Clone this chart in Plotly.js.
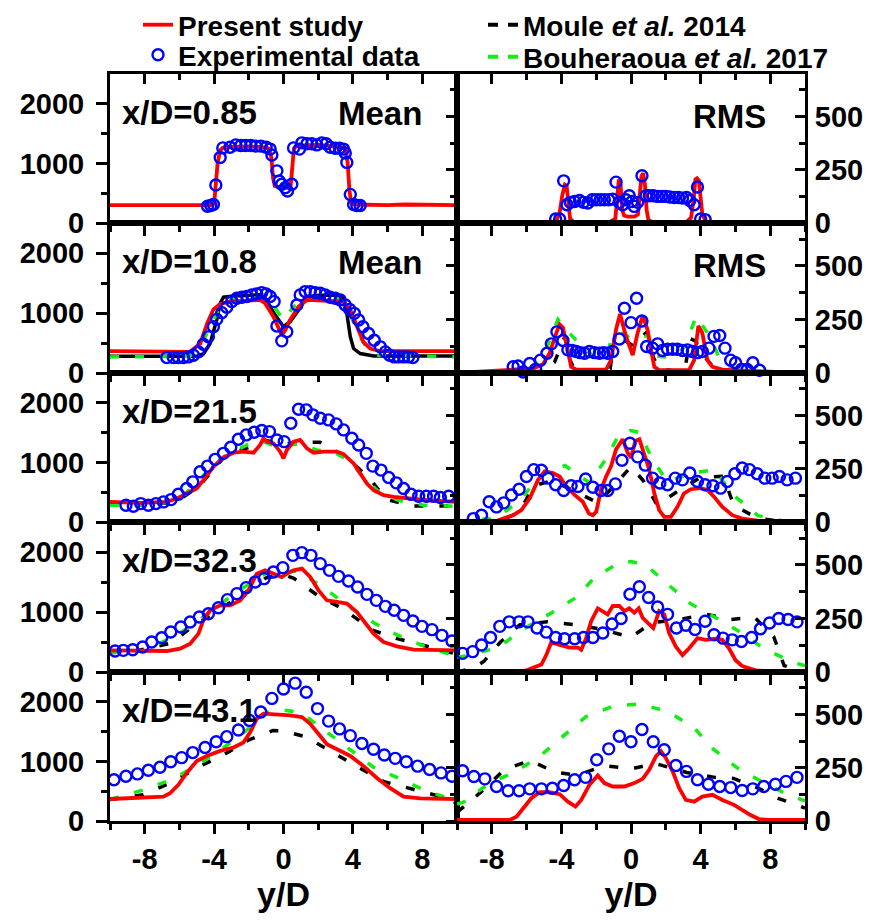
<!DOCTYPE html>
<html><head><meta charset="utf-8">
<script src="https://cdn.plot.ly/plotly-3.0.1.min.js"></script>
<style>html,body{margin:0;padding:0;background:#fff}</style>
</head><body><div id="chart" style="width:882px;height:921px"></div>
<script>
// ---------- DATA ----------
const stations = ['x/D=0.85','x/D=10.8','x/D=21.5','x/D=32.3','x/D=43.1'];
const xTickVals = [-8,-4,0,4,8];

// x/D = 0.85  Mean
const mean1_red_x = [-10,-6,-4.2,-4.0,-3.9,-3.8,-3.65,-3.5,-3,-2,-1,-0.8,-0.7,-0.6,-0.5,-0.3,0,0.3,0.42,0.5,0.6,0.75,1,2,3,3.4,3.6,3.7,3.8,3.9,4.1,5,6,7,8,9,10];
const mean1_red_y = [300,300,300,320,600,1000,1220,1260,1275,1285,1270,1240,1100,750,620,600,590,595,640,950,1250,1290,1300,1310,1290,1270,1220,1000,550,340,310,300,300,310,305,315,300];
const mean1_exp_x = [-4.38,-4.19,-4.04,-3.9,-3.65,-3.5,-3.08,-2.75,-2.46,-2.17,-1.88,-1.6,-1.3,-1.0,-0.77,-0.67,-0.38,-0.25,-0.1,0.1,0.23,0.48,0.58,0.92,1.06,1.35,1.63,1.92,2.21,2.46,2.69,2.98,3.23,3.46,3.56,3.65,3.85,4.04,4.23,4.42];
const mean1_exp_y = [282,294,311,638,1100,1260,1270,1310,1300,1300,1300,1290,1290,1270,1240,1140,875,705,650,593,537,650,1260,1240,1345,1330,1330,1310,1345,1330,1270,1255,1255,1240,1175,1017,480,310,294,294];

// x/D = 0.85  RMS
const rms1_red_x = [-10,-5,-4.3,-4.1,-3.95,-3.8,-3.7,-3.6,-3.5,-3.3,-1.2,-0.9,-0.8,-0.7,-0.6,-0.5,-0.4,-0.2,0,0.2,0.4,0.5,0.6,0.7,0.8,0.9,1.0,1.2,3.2,3.45,3.6,3.7,3.8,3.9,4.0,4.1,4.3,5,10];
const rms1_red_y = [0,2,8,50,130,180,175,100,20,5,5,20,120,205,180,60,35,30,30,30,40,120,220,234,180,60,15,5,5,25,110,205,210,200,120,40,8,3,0];
const rms1_exp_x = [-4.33,-4.10,-3.87,-3.68,-3.49,-3.24,-2.96,-2.73,-2.48,-2.23,-2.0,-1.77,-1.53,-1.28,-1.05,-0.86,-0.67,-0.48,-0.29,-0.1,0.06,0.19,0.38,0.63,0.86,1.05,1.28,1.53,1.77,2.0,2.23,2.48,2.73,2.96,3.19,3.38,3.63,3.82,4.0,4.26];
const rms1_exp_y = [19,19,198,86,97,101,106,97,94,109,109,109,109,109,112,192,97,86,109,128,101,78,97,222,128,128,128,125,125,125,122,120,120,117,120,106,86,169,19,16];

// x/D = 10.8  Mean
const mean2_red_x = [-10,-6,-5.4,-4.8,-4.4,-4.04,-3.65,-3.08,-1.92,-1.35,-1.06,-0.58,-0.1,0.1,0.38,0.87,1.35,2.3,3.46,3.85,4.23,4.6,5.0,5.58,10];
const mean2_red_y = [363,360,352,490,826,1061,1150,1190,1207,1218,1162,938,631,715,883,1106,1218,1207,1190,1050,771,520,408,363,363];
const mean2_moule_x = [-10,-5,-4.6,-4.23,-3.85,-3.65,-3.46,-2.88,-1.35,-1.06,-0.48,0,0.38,0.87,1.35,1.92,3.08,3.46,3.65,3.85,4.04,4.42,5.2,10];
const mean2_moule_y = [279,279,324,492,883,1162,1263,1285,1302,1246,966,771,855,1050,1274,1290,1302,1246,994,603,408,324,285,285];
const mean2_bouh_x = [-10,-5.4,-4.8,-4.23,-3.65,-2.88,-1.15,-0.67,0,0.58,1.35,3.08,3.65,4.23,4.8,5.4,10];
const mean2_bouh_y = [268,279,436,771,1106,1246,1246,1162,883,1106,1274,1246,1106,715,408,296,268];
const mean2_exp_x = [-6.73,-6.35,-6.06,-5.77,-5.48,-5.19,-4.9,-4.62,-4.33,-4.04,-3.85,-3.56,-3.27,-2.98,-2.69,-2.4,-2.12,-1.83,-1.54,-1.25,-1.0,-0.77,-0.54,-0.38,-0.1,0.19,0.77,0.96,1.25,1.54,1.83,2.12,2.4,2.69,2.98,3.27,3.56,3.81,4.08,4.33,4.58,4.9,5.23,5.58,5.87,6.12,6.38,6.63,6.92,7.2,7.46];
const mean2_exp_y = [257,257,257,257,268,296,352,480,603,771,894,1006,1095,1190,1246,1263,1274,1302,1318,1340,1318,1274,1190,782,536,687,1134,1302,1357,1357,1340,1330,1302,1263,1246,1218,1134,1061,994,883,771,659,547,436,352,296,268,268,268,268,257];

// x/D = 10.8  RMS
const rms2_red_x = [-10,-6.97,-5.63,-5.06,-4.68,-4.29,-4.1,-3.91,-3.63,-3.44,-3.15,-1.43,-1.15,-0.86,-0.63,-0.29,0.1,0.38,0.67,0.95,1.15,1.34,1.62,3.34,3.63,3.87,4.1,4.39,4.68,5.25,6.77,8.68,10];
const rms2_red_y = [0,13,21,41,92,187,227,211,108,29,16,16,60,203,275,171,84,187,267,203,108,29,13,13,60,219,187,60,29,16,10,5,0];
const rms2_moule_x = [-10,-6,-5,-4.4,-3.8,-3.5,-3.2,-2,-1.2,-0.9,-0.5,0.15,0.5,0.9,1.3,1.6,2.5,3.1,3.4,3.7,4.2,4.8,5.5,7,10];
const rms2_moule_y = [0,0,10,50,170,60,8,5,20,190,160,125,160,190,70,20,10,20,160,150,80,20,8,3,0];
const rms2_bouh_x = [-10,-7.7,-5.9,-5,-4.2,-3.3,-2.2,-1.4,-1.1,-0.5,-0.2,0.2,0.95,1.5,1.9,2.6,3.1,3.75,4.45,5.2,6.4,10];
const rms2_bouh_y = [0,3,13,85,250,165,80,80,165,185,170,185,170,80,75,80,125,265,180,50,3,0];
const rms2_exp_x = [-6.77,-6.49,-6.2,-5.82,-5.48,-5.21,-4.83,-4.58,-4.26,-3.91,-3.63,-3.38,-3.15,-2.92,-2.67,-2.39,-2.1,-1.81,-1.58,-1.34,-1.05,-0.67,-0.38,0,0.32,0.63,0.9,1.24,1.53,1.81,2.1,2.39,2.67,2.96,3.24,3.53,3.82,4.1,4.48,4.77,5.1,5.4,5.73,6.01,6.35,6.68,7.0,7.39];
const rms2_exp_y = [29,33,5,44,17,60,92,136,192,152,108,105,100,95,92,100,95,92,95,92,100,159,302,235,349,243,124,116,136,105,111,111,111,105,108,100,95,100,116,171,175,116,60,48,16,16,48,13];

// x/D = 21.5  Mean
const mean3_red_x = [-10,-8.27,-6.73,-6.15,-5.58,-5.0,-4.62,-4.04,-3.46,-2.88,-2.31,-1.73,-1.35,-1.15,-0.96,-0.58,-0.19,0,0.19,0.58,0.96,1.35,1.73,2.31,3.08,3.46,4.04,4.42,4.81,5.19,5.77,6.35,7.3,8.27,10];
const mean3_red_y = [337,320,337,393,478,562,702,927,1084,1163,1180,1163,1292,1404,1348,1320,1180,1067,1208,1348,1376,1236,1163,1180,1180,1140,983,815,646,534,449,421,393,365,337];
const mean3_moule_x = [-10,-6.3,-4.9,-3.3,-2,-0.9,0,0.6,2.1,3.6,5,5.9,7.4,10];
const mean3_moule_y = [320,320,590,1130,1250,1360,1300,1330,1340,1090,720,380,270,270];
const mean3_bouh_x = [-10,-8.3,-6.5,-6,-5,-4.04,-3.08,-2.1,-1.15,-0.38,0.19,0.96,1.92,2.88,3.85,4.6,5.58,6.73,8.08,10];
const mean3_bouh_y = [280,280,337,393,646,983,1152,1292,1348,1264,1292,1309,1208,1180,1011,758,478,354,281,264];
const mean3_exp_x = [-9.08,-8.65,-8.23,-7.79,-7.35,-6.92,-6.48,-6.06,-5.58,-5.23,-4.81,-4.38,-3.94,-3.46,-3.04,-2.6,-2.15,-1.69,-1.25,-0.81,-0.38,0.04,0.42,0.87,1.31,1.69,2.12,2.6,3.04,3.46,3.94,4.33,4.77,5.15,5.62,6.06,6.5,6.92,7.35,7.79,8.23,8.65,9.04,9.52];
const mean3_exp_y = [281,264,309,281,309,337,376,466,562,674,843,938,1051,1152,1253,1388,1461,1506,1534,1517,1376,1348,1657,1893,1882,1798,1742,1713,1646,1545,1404,1292,1152,938,871,747,657,562,466,433,433,433,410,433];

// x/D = 21.5  RMS
const rms3_red_x = [-10,-7.9,-7.35,-6.77,-6.3,-5.82,-5.34,-4.96,-4.48,-4.1,-3.72,-3.24,-2.77,-2.42,-2.19,-2.0,-1.72,-1.43,-1.15,-0.86,-0.48,-0.19,0,0.25,0.48,0.76,1.05,1.34,1.62,1.91,2.29,2.67,3.05,3.44,4.0,4.39,4.77,5.25,5.82,6.39,7.35,10];
const rms3_red_y = [0,0,16,32,56,111,198,238,230,214,167,127,95,40,32,48,151,214,262,341,389,325,302,381,389,325,246,135,56,24,24,71,135,154,159,151,119,71,32,16,5,0];
const rms3_moule_x = [-10,-7.5,-6.4,-5.6,-4.5,-3.1,-1.9,-1.2,-0.7,0,0.7,1.5,2.7,4,5.3,5.9,7.2,8.8,10];
const rms3_moule_y = [0,5,48,170,195,140,90,150,195,260,195,80,145,210,215,80,20,0,0];
const rms3_bouh_x = [-10,-7.7,-6.4,-5.25,-3.8,-2.4,-1.4,-0.7,0,0.5,1.25,2.1,3.5,4.8,5.9,7.3,8.9,10];
const rms3_bouh_y = [0,20,100,215,265,185,300,410,430,420,290,190,230,245,125,30,2,0];
const rms3_exp_x = [-9.06,-8.59,-8.15,-7.73,-7.31,-6.87,-6.43,-6.01,-5.59,-5.15,-4.77,-4.33,-3.87,-3.44,-3.05,-2.61,-2.19,-1.72,-1.34,-0.9,-0.52,-0.06,0.38,0.82,1.24,1.66,2.1,2.54,2.96,3.38,3.82,4.26,4.71,5.15,5.53,5.97,6.39,6.81,7.25,7.69,8.11,8.53,8.97,9.45];
const rms3_exp_y = [16,32,95,71,90,127,154,214,246,243,206,175,148,170,167,202,163,148,148,179,290,370,306,267,206,183,175,206,198,230,190,175,170,159,190,227,254,246,227,206,206,214,198,206];

// x/D = 32.3  Mean
const mean4_red_x = [-10,-8.27,-6.73,-5.96,-5.38,-4.9,-4.62,-4.23,-3.65,-3.08,-2.5,-2.02,-1.54,-1.06,-0.58,-0.1,0.19,0.58,1.06,1.54,2.02,2.5,3.08,3.65,4.23,4.71,5.19,5.77,6.54,7.5,10];
const mean4_red_y = [361,350,350,389,472,639,861,1028,1111,1111,1194,1361,1639,1694,1639,1583,1639,1694,1722,1583,1361,1194,1167,1139,1000,806,639,500,428,372,361];
const mean4_moule_x = [-10,-8.4,-6.5,-5.4,-3.9,-2.5,-1,0,0.6,2,3.5,5.1,6.5,8.3,10];
const mean4_moule_y = [320,360,480,720,1010,1260,1570,1620,1560,1270,1040,700,560,420,300];
const mean4_bouh_x = [-10,-8.1,-6.3,-5,-3.6,-2.4,-0.9,0.8,2.3,3.8,5.2,6.6,8.2,9.8,10];
const mean4_bouh_y = [320,350,590,830,1140,1390,1660,1680,1410,1080,820,610,420,270,260];
const mean4_exp_x = [-9.71,-9.23,-8.69,-8.12,-7.6,-7.02,-6.5,-5.92,-5.38,-4.85,-4.33,-3.75,-3.23,-2.69,-2.15,-1.63,-1.12,-0.58,-0.04,0.54,1.06,1.58,2.12,2.65,3.17,3.75,4.27,4.81,5.35,5.87,6.38,6.92,7.46,7.98,8.56,9.13,9.71];
const mean4_exp_y = [350,361,372,417,500,572,667,750,833,917,972,1072,1206,1306,1406,1500,1556,1667,1739,1944,1989,1944,1806,1694,1594,1517,1417,1294,1194,1094,1028,944,850,761,706,611,517];

// x/D = 32.3  RMS
const rms4_red_x = [-10,-6.58,-6.0,-5.44,-5.15,-4.87,-4.58,-4.1,-3.53,-3.05,-2.86,-2.58,-2.29,-1.91,-1.62,-1.34,-1.05,-0.67,-0.38,-0.1,0.19,0.44,0.67,1.05,1.28,1.62,1.91,2.19,2.58,2.96,3.34,3.82,4.29,4.87,5.25,5.63,6.01,6.39,7.16,7.92,10];
const rms4_red_y = [0,0,8,28,35,79,139,126,114,114,103,158,237,297,284,269,308,308,284,297,277,297,253,221,205,284,269,182,118,79,111,158,150,155,150,111,55,28,8,3,0];
const rms4_moule_x = [-10,-9,-8.45,-7.5,-6.4,-4.8,-3.2,-1.7,0,1.2,2.8,4.3,5.7,7.1,8.2,8.8,10];
const rms4_moule_y = [0,20,50,140,220,235,220,200,162,230,245,270,245,255,165,30,0];
const rms4_bouh_x = [-10,-9.5,-7.6,-6.3,-4.7,-3.2,-2.1,-0.7,0,0.85,2.1,3.4,4.95,6.3,7.7,9.5,10];
const rms4_bouh_y = [70,75,115,195,270,345,440,510,515,500,410,320,250,185,105,40,30];
const rms4_exp_x = [-10.2,-9.68,-9.1,-8.59,-8.07,-7.54,-7.0,-6.43,-5.92,-5.4,-4.87,-4.33,-3.82,-3.24,-2.73,-2.19,-1.62,-1.09,-0.57,-0.06,0.48,1.01,1.53,2.1,2.61,3.15,3.68,4.26,4.77,5.29,5.82,6.35,6.93,7.44,7.96,8.49,9.03,9.54];
const rms4_exp_y = [145,87,95,126,161,213,234,234,234,205,186,161,155,155,161,161,182,224,250,363,398,348,303,269,205,218,198,237,174,158,150,142,161,202,229,250,245,234];

// x/D = 43.1  Mean
const mean5_red_x = [-10,-8.27,-6.92,-6.54,-6.06,-5.58,-5.0,-4.42,-3.65,-2.88,-2.31,-1.92,-1.54,-1.15,-0.38,0.38,1.06,1.54,2.02,2.5,3.08,3.85,4.62,5.38,6.15,6.92,7.88,10];
const mean5_red_y = [369,392,409,466,608,807,1006,1091,1176,1233,1318,1489,1716,1801,1790,1773,1744,1631,1460,1290,1205,1091,920,722,551,409,381,369];
const mean5_moule_x = [-10,-8.1,-6.5,-4.8,-3.4,-2,-0.6,0,1.3,2.7,4.2,5.8,7.3,8.8,10];
const mean5_moule_y = [360,440,640,920,1120,1360,1520,1510,1410,1170,920,660,540,430,300];
const mean5_bouh_x = [-10,-8.1,-6.4,-4.9,-3.5,-2.1,-0.8,0,1,2.3,3.7,5.2,6.8,8.3,9.6,10];
const mean5_bouh_y = [360,520,700,950,1220,1530,1850,1860,1820,1530,1220,900,700,490,380,360];
const mean5_exp_x = [-9.77,-9.08,-8.42,-7.79,-7.12,-6.5,-5.87,-5.23,-4.52,-3.88,-3.27,-2.6,-1.96,-1.31,-0.67,0,0.67,1.31,1.96,2.6,3.23,3.85,4.52,5.19,5.81,6.44,7.08,7.73,8.42,9.08,9.71];
const mean5_exp_y = [693,750,790,852,903,994,1063,1148,1233,1330,1415,1528,1688,1830,2057,2216,2313,2159,1886,1676,1545,1432,1301,1205,1108,1051,994,920,864,807,750];

// x/D = 43.1  RMS
const rms5_red_x = [-10,-6.97,-6.58,-6.2,-5.73,-5.25,-4.68,-4.1,-3.63,-3.19,-2.86,-2.39,-1.91,-1.53,-1.05,-0.38,0.19,0.67,1.05,1.43,1.72,2.0,2.39,2.77,3.15,3.63,4.1,4.68,5.25,5.92,6.39,6.87,7.35,7.92,10];
const rms5_red_y = [5,5,20,60,107,135,135,126,91,68,99,170,214,178,162,162,178,198,241,304,328,296,233,154,99,91,115,123,99,76,52,28,9,5,5];
const rms5_moule_x = [-10,-8.5,-7.3,-5.8,-4.4,-3.1,-1.5,0,1.4,3.2,4.8,5.9,7.3,8.5,9.7,10];
const rms5_moule_y = [40,145,240,285,230,215,260,245,270,228,205,200,155,105,70,60];
const rms5_bouh_x = [-10,-9.6,-8.1,-6.8,-5.3,-3.9,-2.6,-1.0,0.5,2.1,3.6,4.7,6.1,7.4,9.1,10];
const rms5_bouh_y = [80,90,180,225,300,400,490,540,550,515,440,340,250,190,120,95];
const rms5_exp_x = [-10.25,-9.68,-9.03,-8.4,-7.73,-7.06,-6.43,-5.82,-5.15,-4.52,-3.87,-3.24,-2.61,-1.97,-1.28,-0.67,0,0.63,1.28,1.91,2.58,3.19,3.82,4.45,5.1,5.73,6.39,7.0,7.63,8.3,8.91,9.54];
const rms5_exp_y = [214,236,209,198,162,142,142,151,151,154,167,194,205,288,339,398,372,430,372,335,261,233,194,173,162,157,143,151,162,173,186,205];

// ---------- LAYOUT HELPERS ----------
const W = 882, H = 921;
const FONT = 'Liberation Sans, Arial, Helvetica, sans-serif';
const X = p => p / W;
const Y = p => 1 - p / H;
const colPx = [[110, 457], [457, 805]];
const rowPx = [[74, 223], [223, 373], [373, 522], [522, 672], [672, 821]];
const RED = '#ff0000', BLUE = '#0000ff', GREEN = '#11ee11', BLACK = '#000000';
const TICKFONT = {family: FONT, size: 29, weight: 'bold', color: BLACK};
const LABELFONT = {family: FONT, size: 33, weight: 'bold', color: BLACK};

const panels = [
  {red:[mean1_red_x,mean1_red_y], exp:[mean1_exp_x,mean1_exp_y]},
  {red:[rms1_red_x,rms1_red_y], exp:[rms1_exp_x,rms1_exp_y]},
  {red:[mean2_red_x,mean2_red_y], exp:[mean2_exp_x,mean2_exp_y], moule:[mean2_moule_x,mean2_moule_y], bouh:[mean2_bouh_x,mean2_bouh_y], mouleSolid:true},
  {red:[rms2_red_x,rms2_red_y], exp:[rms2_exp_x,rms2_exp_y], moule:[rms2_moule_x,rms2_moule_y], bouh:[rms2_bouh_x,rms2_bouh_y]},
  {red:[mean3_red_x,mean3_red_y], exp:[mean3_exp_x,mean3_exp_y], moule:[mean3_moule_x,mean3_moule_y], bouh:[mean3_bouh_x,mean3_bouh_y]},
  {red:[rms3_red_x,rms3_red_y], exp:[rms3_exp_x,rms3_exp_y], moule:[rms3_moule_x,rms3_moule_y], bouh:[rms3_bouh_x,rms3_bouh_y]},
  {red:[mean4_red_x,mean4_red_y], exp:[mean4_exp_x,mean4_exp_y], moule:[mean4_moule_x,mean4_moule_y], bouh:[mean4_bouh_x,mean4_bouh_y]},
  {red:[rms4_red_x,rms4_red_y], exp:[rms4_exp_x,rms4_exp_y], moule:[rms4_moule_x,rms4_moule_y], bouh:[rms4_bouh_x,rms4_bouh_y]},
  {red:[mean5_red_x,mean5_red_y], exp:[mean5_exp_x,mean5_exp_y], moule:[mean5_moule_x,mean5_moule_y], bouh:[mean5_bouh_x,mean5_bouh_y]},
  {red:[rms5_red_x,rms5_red_y], exp:[rms5_exp_x,rms5_exp_y], moule:[rms5_moule_x,rms5_moule_y], bouh:[rms5_bouh_x,rms5_bouh_y]}
];

const DASH = '9px,16px';
const traces = [];
const legendBase = {
  orientation: 'v', yanchor: 'top', xanchor: 'left',
  font: {family: FONT, size: 28, weight: 'bold', color: BLACK},
  bgcolor: 'rgba(0,0,0,0)', itemwidth: 30, traceorder: 'normal', tracegroupgap: 0
};
const layout = {
  width: W, height: H,
  margin: {l:0, r:0, t:0, b:0},
  paper_bgcolor: '#ffffff', plot_bgcolor: '#ffffff',
  font: {family: FONT, color: BLACK, size: 26, weight: 'bold'},
  showlegend: true,
  legend:  Object.assign({}, legendBase, {x: X(138), y: Y(0)}),
  legend2: Object.assign({}, legendBase, {x: X(138), y: Y(30)}),
  legend3: Object.assign({}, legendBase, {x: X(483), y: Y(0)}),
  legend4: Object.assign({}, legendBase, {x: X(483), y: Y(32)}),
  annotations: []
};

const axisCommon = {showgrid: false, zeroline: false, fixedrange: true};

// legend-only entries for the two reference models (show the dash pattern clearly)
const legendOnly = (name, color, lg) => ({
  x: [null], y: [null], mode: 'lines', name: name, legend: lg, showlegend: true,
  line: {color: color, width: 4, dash: '10px,10px'}, hoverinfo: 'skip', xaxis: 'x4', yaxis: 'y4'
});

panels.forEach((p, k) => {
  const i = k + 1;
  const row = Math.floor(k / 2), col = k % 2;
  const sfx = i === 1 ? '' : String(i);
  const xa = 'x' + sfx, ya = 'y' + sfx;
  const isMean = col === 0;
  const base = {xaxis: xa, yaxis: ya, hoverinfo: 'skip'};
  if (p.moule) traces.push(Object.assign({}, base, {
    x: p.moule[0], y: p.moule[1], mode: 'lines',
    line: {color: BLACK, width: 3.5, dash: p.mouleSolid ? 'solid' : DASH},
    name: 'Moule <i>et al.</i> 2014', showlegend: false
  }));
  if (p.bouh) traces.push(Object.assign({}, base, {
    x: p.bouh[0], y: p.bouh[1], mode: 'lines',
    line: {color: GREEN, width: 3.5, dash: DASH},
    name: 'Bouheraoua <i>et al.</i> 2017', showlegend: false
  }));
  traces.push(Object.assign({}, base, {
    x: p.red[0], y: p.red[1], mode: 'lines',
    line: {color: RED, width: 3.8},
    name: 'Present study', showlegend: i === 1, legend: 'legend'
  }));
  traces.push(Object.assign({}, base, {
    x: p.exp[0], y: p.exp[1], mode: 'markers', cliponaxis: false,
    marker: {symbol: 'circle-open', size: 11, color: BLUE, line: {width: 2.4, color: BLUE}},
    name: 'Experimental data', showlegend: i === 1, legend: 'legend2'
  }));

  const xd = [X(colPx[col][0]), X(colPx[col][1])];
  const yd = [Y(rowPx[row][1]), Y(rowPx[row][0])];
  const bottom = row === 4;
  layout['xaxis' + sfx] = Object.assign({}, axisCommon, {
    domain: xd, anchor: ya, range: [-10, 10],
    tickmode: 'array', tickvals: xTickVals, ticktext: xTickVals.map(String),
    ticks: 'outside', ticklen: 10, tickwidth: 3, tickcolor: BLACK,
    minor: {tickvals: [-10,-6,-2,2,6,10], ticks: 'outside', ticklen: 6, tickwidth: 3, tickcolor: BLACK},
    showticklabels: bottom, tickfont: TICKFONT,
    showline: true, linewidth: 3, linecolor: BLACK, mirror: true,
    title: bottom ? {text: 'y/D', font: {family: FONT, size: 34, weight: 'bold', color: BLACK}, standoff: 2} : undefined
  });
  layout['yaxis' + sfx] = isMean ? Object.assign({}, axisCommon, {
    domain: yd, anchor: xa, range: [0, 2500], side: 'left',
    tickmode: 'array', tickvals: [0, 1000, 2000],
    ticks: 'outside', ticklen: 11, tickwidth: 3, tickcolor: BLACK,
    minor: {tickvals: [500, 1500], ticks: 'outside', ticklen: 6, tickwidth: 3, tickcolor: BLACK},
    tickfont: TICKFONT, ticklabelstandoff: 6,
    showline: true, linewidth: 3, linecolor: BLACK, mirror: true
  }) : Object.assign({}, axisCommon, {
    domain: yd, anchor: xa, range: [0, 700], side: 'right',
    tickmode: 'array', tickvals: [0, 250, 500],
    ticks: 'inside', ticklen: 10, tickwidth: 3, tickcolor: BLACK,
    minor: {tickvals: [125, 375, 625], ticks: 'inside', ticklen: 6, tickwidth: 3, tickcolor: BLACK},
    tickfont: TICKFONT, ticklabelstandoff: 1,
    showline: true, linewidth: 3, linecolor: BLACK, mirror: true
  });

  // extra tick marks on the left edge of each RMS panel (pointing into the Mean panel)
  if (!isMean) {
    const oy = 'y' + (10 + i);
    layout['yaxis' + (10 + i)] = Object.assign({}, axisCommon, {
      overlaying: ya, anchor: xa, side: 'left', range: [0, 700],
      tickmode: 'array', tickvals: [0, 250, 500],
      ticks: 'outside', ticklen: 10, tickwidth: 3, tickcolor: BLACK,
      minor: {tickvals: [125, 375, 625], ticks: 'outside', ticklen: 6, tickwidth: 3, tickcolor: BLACK},
      showticklabels: false, showline: false
    });
    traces.push({x: [null], y: [null], xaxis: xa, yaxis: oy, mode: 'lines', showlegend: false, hoverinfo: 'skip'});
  }
  // inward tick marks on the top edge of the first row
  if (row === 0) {
    const ox = 'x' + (20 + i);
    layout['xaxis' + (20 + i)] = Object.assign({}, axisCommon, {
      overlaying: xa, anchor: ya, side: 'top', range: [-10, 10],
      tickmode: 'array', tickvals: xTickVals,
      ticks: 'inside', ticklen: 10, tickwidth: 3, tickcolor: BLACK,
      minor: {tickvals: [-10,-6,-2,2,6,10], ticks: 'inside', ticklen: 6, tickwidth: 3, tickcolor: BLACK},
      showticklabels: false, showline: false
    });
    traces.push({x: [null], y: [null], xaxis: ox, yaxis: ya, mode: 'lines', showlegend: false, hoverinfo: 'skip'});
  }

  // panel labels
  if (isMean) {
    layout.annotations.push({
      xref: 'paper', yref: 'paper', x: X(120), y: Y(rowPx[row][0] + 38),
      xanchor: 'left', yanchor: 'middle', showarrow: false,
      text: stations[row], font: LABELFONT
    });
  }
  if (row < 2) {
    layout.annotations.push({
      xref: 'paper', yref: 'paper',
      x: isMean ? X(424) : X(768), y: Y(rowPx[row][0] + (isMean ? 39 : 42)),
      xanchor: 'right', yanchor: 'middle', showarrow: false,
      text: isMean ? 'Mean' : 'RMS', font: LABELFONT
    });
  }
});

traces.push(legendOnly('Moule <i>et al.</i> 2014', BLACK, 'legend3'));
traces.push(legendOnly('Bouheraoua <i>et al.</i> 2017', GREEN, 'legend4'));

Plotly.newPlot('chart', traces, layout, {staticPlot: true, displayModeBar: false});
</script>
</body></html>
